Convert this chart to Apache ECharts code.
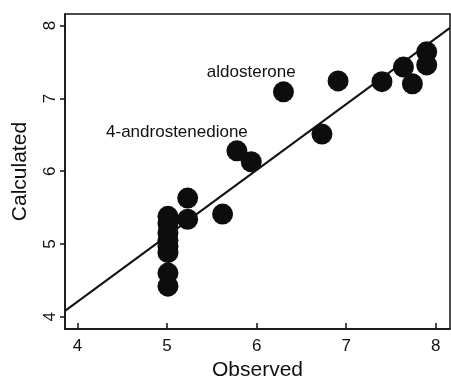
<!DOCTYPE html>
<html>
<head>
<meta charset="utf-8">
<script src="https://cdn.jsdelivr.net/npm/echarts@6/dist/echarts.min.js"></script>
<style>html,body{margin:0;padding:0;background:#fff}#c{width:451px;height:386px}</style>
</head>
<body>
<div id="c"></div>
<script>
// Observed vs Calculated values
const observed = [6.30, 6.91, 7.40, 7.64, 7.74, 7.90, 7.90, 6.73, 5.78, 5.94, 5.23, 5.23, 5.62,
                  5.01, 5.01, 5.01, 5.01, 5.01, 5.01, 5.01, 5.01];
const calculated = [7.09, 7.24, 7.23, 7.43, 7.20, 7.64, 7.46, 6.51, 6.28, 6.13, 5.63, 5.34, 5.41,
                    5.38, 5.28, 5.15, 5.05, 4.97, 4.88, 4.60, 4.42];
const fitX = [3.86, 8.16];
const fitY = [4.08, 7.97];
const tickValues = [4, 5, 6, 7, 8];
const annotNames = ['aldosterone', '4-androstenedione'];
const annotX = [5.94, 5.11];
const annotY = [7.36, 6.53];

const chart = echarts.init(document.getElementById('c'));
const font = 'Liberation Sans, Arial, sans-serif';
chart.setOption({
  animation: false,
  grid: {left: 65, top: 14, right: 1, bottom: 46, show: true, borderColor: '#111', borderWidth: 1.5},
  xAxis: {
    type: 'value', min: 3.86, max: 8.16,
    name: 'Observed', nameLocation: 'middle', nameGap: 30,
    nameTextStyle: {fontFamily: font, fontSize: 21, color: '#111'},
    axisLine: {show: true, lineStyle: {color: '#111', width: 1.5}},
    axisTick: {show: true, inside: true, length: 6, customValues: tickValues, lineStyle: {color: '#111', width: 1.5}},
    axisLabel: {customValues: tickValues, fontFamily: font, fontSize: 17, color: '#111', margin: 9},
    splitLine: {show: false}
  },
  yAxis: {
    type: 'value', min: 3.83, max: 8.16,
    name: 'Calculated', nameLocation: 'middle', nameGap: 34,
    nameTextStyle: {fontFamily: font, fontSize: 21, color: '#111'},
    axisLine: {show: true, lineStyle: {color: '#111', width: 1.5}},
    axisTick: {show: true, inside: false, length: 5, customValues: tickValues, lineStyle: {color: '#111', width: 1.5}},
    axisLabel: {customValues: tickValues, rotate: 90, fontFamily: font, fontSize: 17, color: '#111', margin: 6},
    splitLine: {show: false}
  },
  series: [
    {
      type: 'line',
      data: fitX.map((x, i) => [x, fitY[i]]),
      showSymbol: false, symbol: 'none',
      lineStyle: {color: '#111', width: 2},
      clip: true, z: 2
    },
    {
      type: 'scatter',
      data: observed.map((x, i) => [x, calculated[i]]),
      symbolSize: 21,
      itemStyle: {color: '#0d0d0d', opacity: 1},
      z: 3
    },
    {
      type: 'scatter',
      data: annotNames.map((n, i) => ({name: n, value: [annotX[i], annotY[i]]})),
      symbolSize: 0,
      itemStyle: {opacity: 1},
      label: {show: true, position: 'inside', formatter: p => p.name, opacity: 1,
              fontFamily: font, fontSize: 17, color: '#111'},
      z: 4
    }
  ]
});
</script>
</body>
</html>
